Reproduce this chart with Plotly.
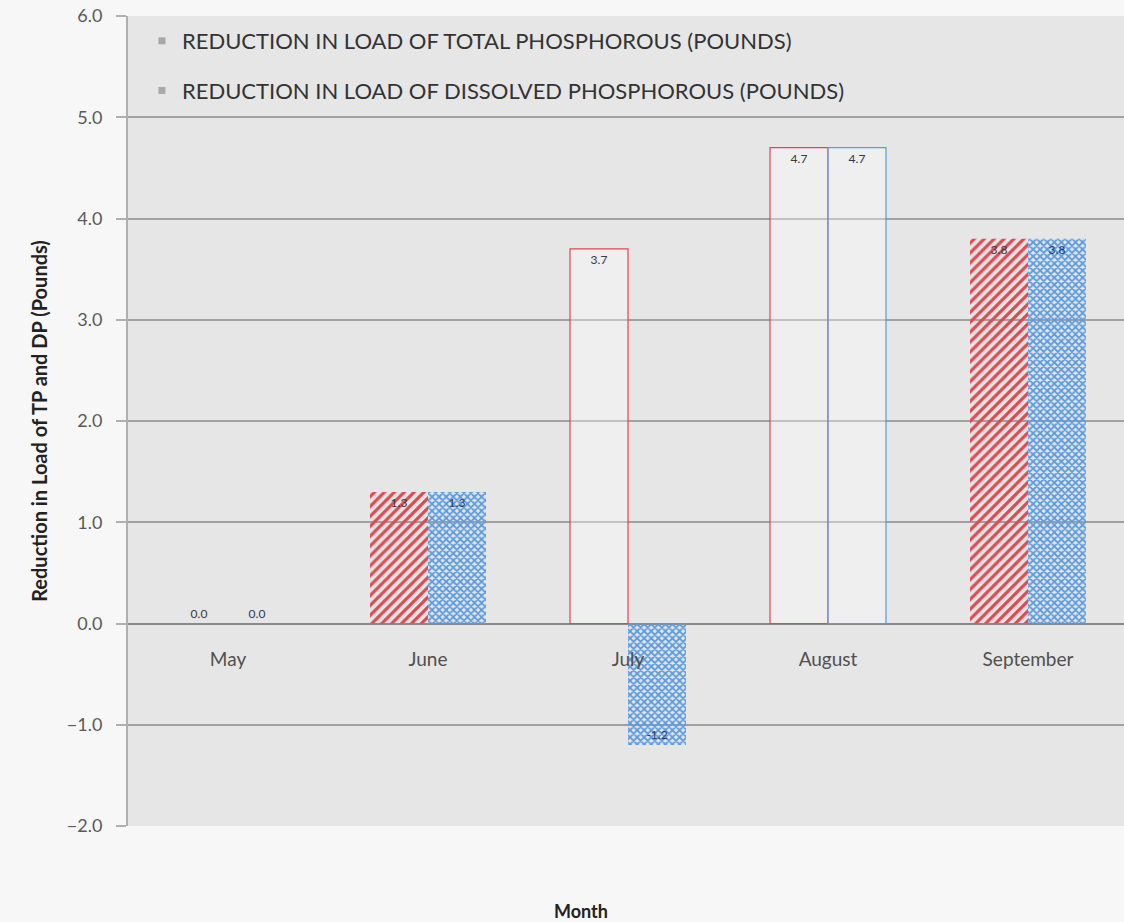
import plotly.graph_objects as go

months = ["May", "June", "July", "August", "September"]
tp_reduction = [0.0, 1.3, 3.7, 4.7, 3.8]
dp_reduction = [0.0, 1.3, -1.2, 4.7, 3.8]

tp_name = "REDUCTION IN LOAD OF TOTAL PHOSPHOROUS (POUNDS)"
dp_name = "REDUCTION IN LOAD OF DISSOLVED PHOSPHOROUS (POUNDS)"

y_ticks = [-2, -1, 0, 1, 2, 3, 4, 5, 6]

RED = "#e2474f"
RED_BG = "#f7cfcb"
BLUE = "#5b9be0"
BLUE_BG = "#86b9ee"
FONT = "Lato, 'Open Sans', sans-serif"

# per-month styling: hatched solid bars, outline-only bars where noted
tp_shape = ["/", "/", "", "", "/"]
tp_fill = [RED, RED, "rgba(255,255,255,0.35)", "rgba(255,255,255,0.35)", RED]
tp_line_w = [0, 0, 1.2, 1.2, 0]
dp_shape = ["x", "x", "x", "", "x"]
dp_fill = [BLUE, BLUE, BLUE, "rgba(255,255,255,0.35)", BLUE]
dp_line_w = [0, 0, 0, 1.2, 0]


def text_pos(vals):
    return ["outside" if v == 0 else "inside" for v in vals]


fig = go.Figure()

fig.add_trace(go.Bar(
    x=months, y=tp_reduction, name=tp_name, showlegend=False,
    marker=dict(
        color=tp_fill,
        line=dict(color=RED, width=tp_line_w),
        pattern=dict(shape=tp_shape, fgcolor=RED, bgcolor=RED_BG,
                     size=7, solidity=0.45, fillmode="replace"),
    ),
    text=[f"{v:.1f}" for v in tp_reduction], textposition=text_pos(tp_reduction),
    insidetextanchor="end", textangle=0, constraintext="none", cliponaxis=False,
    textfont=dict(family=FONT, size=12, color="#3a3a3a"),
))
fig.add_trace(go.Bar(
    x=months, y=dp_reduction, name=dp_name, showlegend=False,
    marker=dict(
        color=dp_fill,
        line=dict(color=BLUE, width=dp_line_w),
        pattern=dict(shape=dp_shape, fgcolor=BLUE, bgcolor=BLUE_BG,
                     size=5, solidity=0.6, fillmode="replace"),
    ),
    text=[f"{v:.1f}" for v in dp_reduction], textposition=text_pos(dp_reduction),
    insidetextanchor="end", textangle=0, constraintext="none", cliponaxis=False,
    textfont=dict(family=FONT, size=12, color="#2a3a5a"),
))

# legend entries with small gray keys
for i, nm in enumerate((tp_name, dp_name)):
    fig.add_trace(go.Scatter(
        x=[None], y=[None], mode="markers", name=nm, legendgroup=f"g{i}",
        marker=dict(symbol="square", size=7, color="#a8a8a8"),
    ))

fig.update_layout(
    width=1124, height=922,
    margin=dict(l=128, r=0, t=16, b=96),
    paper_bgcolor="#f7f7f7",
    plot_bgcolor="#e6e6e6",
    barmode="group", bargap=0.42, bargroupgap=0.0,
    font=dict(family=FONT, color="#404040"),
    legend=dict(
        x=0.014, y=0.995, xanchor="left", yanchor="top",
        bgcolor="rgba(0,0,0,0)",
        font=dict(family=FONT, size=22, color="#333333"),
        itemwidth=30, tracegroupgap=18,
    ),
    xaxis=dict(
        range=[-0.5, 4.48], anchor="free", position=0.25,
        showgrid=False, showline=False, ticks="", ticklabelstandoff=22,
        tickfont=dict(family=FONT, size=19, color="#505050"),
    ),
    yaxis=dict(
        range=[-2, 6], tickvals=y_ticks, tickformat=".1f",
        showgrid=True, gridcolor="#a0a0a0", gridwidth=2,
        zeroline=True, zerolinecolor="#8a8a8a", zerolinewidth=2,
        showline=True, linecolor="#b0b0b0", linewidth=2,
        ticks="outside", ticklen=10, tickcolor="#b0b0b0", tickwidth=2,
        ticklabelstandoff=10,
        tickfont=dict(family=FONT, size=18, color="#5a5a5a"),
        title=dict(text="<b>Reduction in Load of TP and DP (Pounds)</b>",
                   font=dict(family=FONT, size=20, color="#222222"), standoff=14),
    ),
    annotations=[dict(
        text="<b>Month</b>", xref="paper", yref="paper", x=0.455, y=-0.105,
        xanchor="center", yanchor="middle", showarrow=False,
        font=dict(family=FONT, size=18, color="#222222"),
    )],
)

fig.write_html("out.html")
